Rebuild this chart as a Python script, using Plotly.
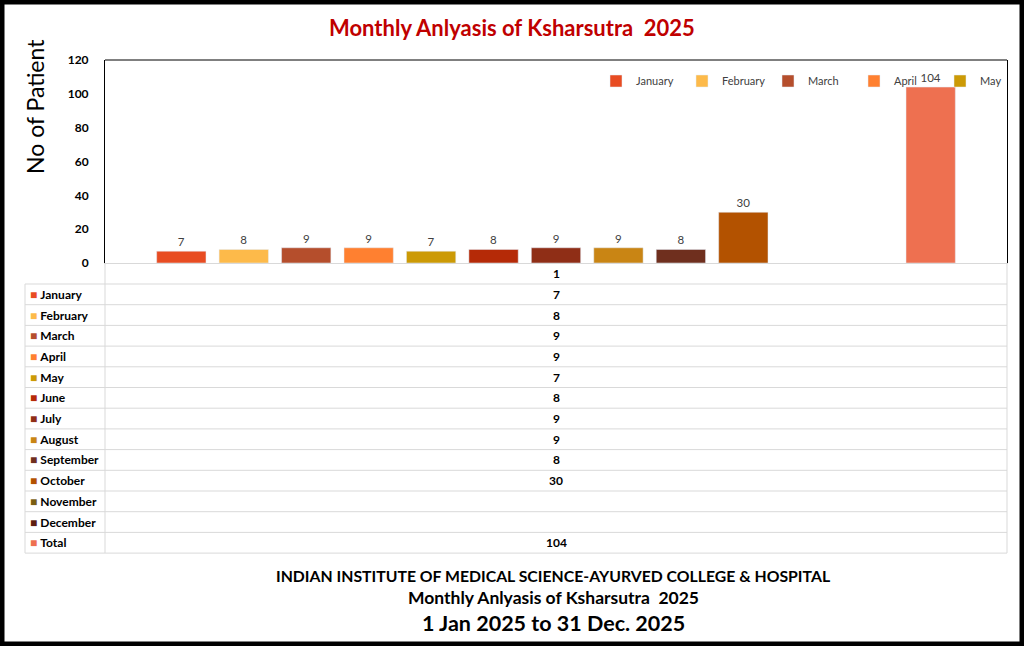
import plotly.graph_objects as go

# ---- data ----
category = ["1"]
months = ["January", "February", "March", "April", "May", "June", "July",
          "August", "September", "October", "November", "December", "Total"]
values = [7, 8, 9, 9, 7, 8, 9, 9, 8, 30, None, None, 104]
colors = ["#E84C22", "#FDBA4A", "#B54E2C", "#FF8030", "#CC9A06", "#B52A07",
          "#8F2E16", "#C98514", "#6F2F1E", "#B35200", "#7A5E12", "#5E1E10",
          "#EE7050"]
legend_shown = ["January", "February", "March", "April", "May"]
yticks = [0, 20, 40, 60, 80, 100, 120]

title_text = "Monthly Anlyasis of Ksharsutra  2025"
footer1 = "INDIAN INSTITUTE OF MEDICAL SCIENCE-AYURVED COLLEGE & HOSPITAL"
footer2 = "Monthly Anlyasis of Ksharsutra  2025"
footer3 = "1 Jan 2025 to 31 Dec. 2025"

W, H = 1024, 646
FONT = "Lato"
GRID = "#D9D9D9"

def px_x(x):
    return x / W

def px_y(y):
    return 1 - y / H

# layout geometry (pixels)
PL, PR, PT, PB = 105, 1007, 60, 263      # plot area
TL = 25                                  # table left edge
HEAD_H = 21                              # table header row height
ROW_H = 20.7                             # table body row height

fig = go.Figure()

for name, v, c in zip(months, values, colors):
    fig.add_trace(go.Bar(
        x=category, y=[v], name=name, marker_color=c,
        text=[v] if v is not None else None,
        textposition="outside", cliponaxis=False,
        textfont=dict(size=11.5, color="#404040", family=FONT),
        showlegend=name in legend_shown,
    ))

fig.update_layout(
    width=W, height=H,
    margin=dict(l=0, r=0, t=0, b=0, autoexpand=False),
    paper_bgcolor="white", plot_bgcolor="white",
    barmode="group", bargap=0.10, bargroupgap=0.21,
    font=dict(family=FONT),
    xaxis=dict(domain=[px_x(PL), px_x(PR)], showticklabels=False,
               showline=True, linecolor=GRID, linewidth=1,
               showgrid=False, zeroline=False, fixedrange=True),
    yaxis=dict(domain=[px_y(PB), px_y(PT)], range=[0, 120],
               tickvals=yticks, showgrid=False, zeroline=False,
               showline=True, linecolor="black", linewidth=1, mirror=True,
               ticks="", ticklabelstandoff=13, automargin=False,
               tickfont=dict(size=12, color="black", family=FONT, weight="bold")),
    legend=dict(orientation="h", x=px_x(596), y=px_y(81), xanchor="left",
                yanchor="middle", bgcolor="rgba(0,0,0,0)",
                font=dict(size=11, color="#404040", family=FONT),
                traceorder="normal", itemwidth=30, entrywidth=41),
    showlegend=True,
)

shapes = []
# top border of plot area
shapes.append(dict(type="line", xref="x domain", yref="y domain", x0=0, x1=1, y0=1, y1=1,
                   line=dict(color="black", width=1)))

# ---- data table below the chart ----
n_rows = len(months)
body_top = PB + HEAD_H
table_bottom = body_top + n_rows * ROW_H
for i in range(n_rows + 1):
    yy = body_top + i * ROW_H
    shapes.append(dict(type="line", xref="paper", yref="paper",
                       x0=px_x(TL), x1=px_x(PR), y0=px_y(yy), y1=px_y(yy),
                       line=dict(color=GRID, width=1)))
for xx, ytop in [(TL, body_top), (PL, PB), (PR, PB)]:
    shapes.append(dict(type="line", xref="paper", yref="paper",
                       x0=px_x(xx), x1=px_x(xx), y0=px_y(ytop), y1=px_y(table_bottom),
                       line=dict(color=GRID, width=1)))
# outer black frame
shapes.append(dict(type="rect", xref="paper", yref="paper", x0=0, x1=1, y0=0, y1=1,
                   line=dict(color="black", width=9)))
fig.update_layout(shapes=shapes)

annotations = [
    dict(text=f"<b>{title_text}</b>", x=px_x(512), y=px_y(27), xanchor="center",
         font=dict(size=22, color="#C00000", family=FONT)),
    dict(text="No of Patient", x=px_x(35), y=px_y(107), textangle=-90, xanchor="center",
         font=dict(size=23, color="black", family=FONT)),
    dict(text=f"<b>{footer1}</b>", x=px_x(553), y=px_y(575), xanchor="center",
         font=dict(size=15.8, color="black", family=FONT)),
    dict(text=f"<b>{footer2}</b>", x=px_x(553), y=px_y(597), xanchor="center",
         font=dict(size=17.5, color="black", family=FONT)),
    dict(text=f"<b>{footer3}</b>", x=px_x(553), y=px_y(623), xanchor="center",
         font=dict(size=21.5, color="black", family=FONT)),
    # table header (category label)
    dict(text=f"<b>{category[0]}</b>", x=px_x((PL + PR) / 2), y=px_y(PB + HEAD_H / 2),
         xanchor="center", font=dict(size=12, color="black", family=FONT)),
]
for i, (m, v, c) in enumerate(zip(months, values, colors)):
    yc = body_top + (i + 0.5) * ROW_H
    annotations.append(dict(
        text=f"<span style='color:{c};font-size:12px'>■</span> <b>{m}</b>",
        x=px_x(TL + 3), y=px_y(yc), xanchor="left",
        font=dict(size=12, color="black", family=FONT)))
    if v is not None:
        annotations.append(dict(
            text=f"<b>{v}</b>", x=px_x((PL + PR) / 2), y=px_y(yc), xanchor="center",
            font=dict(size=12, color="black", family=FONT)))
for a in annotations:
    a.update(xref="paper", yref="paper", showarrow=False, yanchor="middle")
fig.update_layout(annotations=annotations)

fig.write_html("out.html", config={"displayModeBar": False},
               post_script="document.body.style.margin='0';document.body.style.overflow='hidden';")
